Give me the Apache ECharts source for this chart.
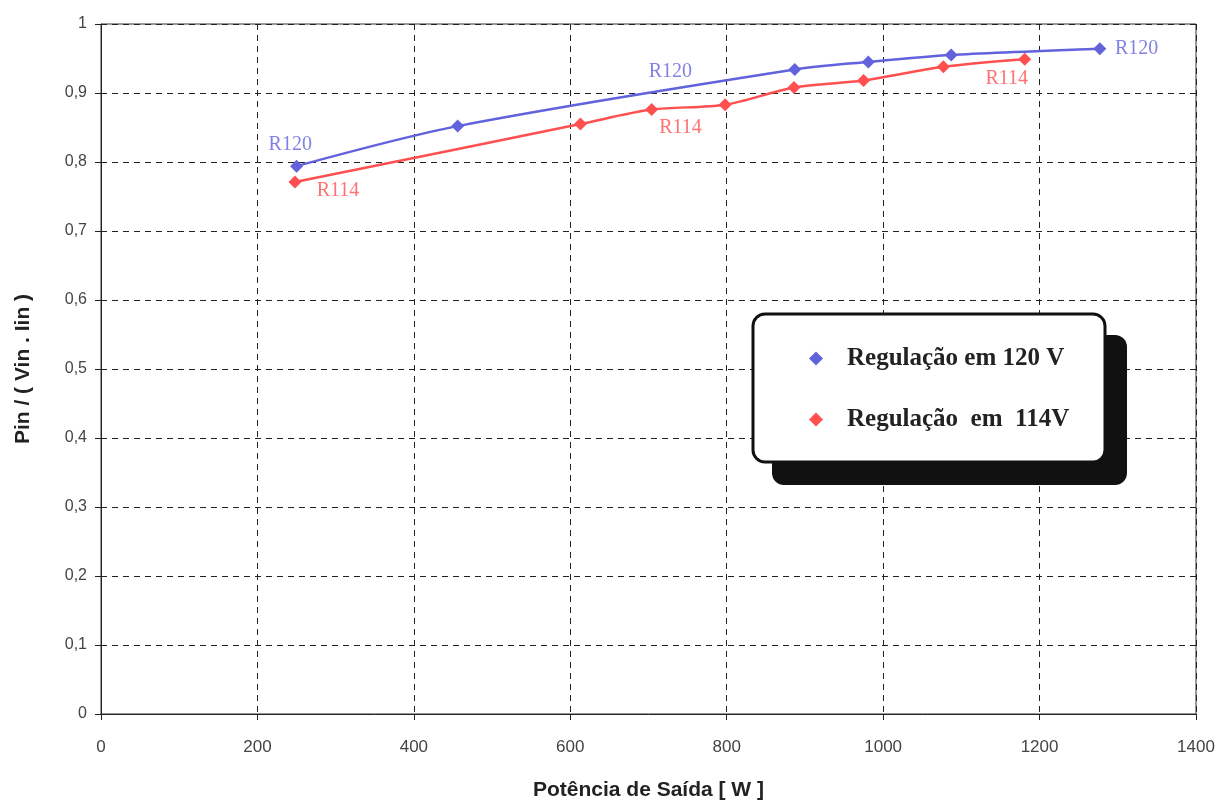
<!DOCTYPE html>
<html>
<head>
<meta charset="utf-8">
<script src="https://cdn.jsdelivr.net/npm/echarts@6/dist/echarts.min.js"></script>
<style>
  html, body { margin: 0; padding: 0; background: #fff; }
  #chart { width: 1221px; height: 806px; }
</style>
</head>
<body>
<div id="chart"></div>
<script>
// Potência de saída [W] e razão Pin / (Vin . Iin) para cada regulação
const potencia120 = [250, 456, 887, 981, 1087, 1277];
const razao120    = [0.794, 0.852, 0.934, 0.945, 0.955, 0.964];

const potencia114 = [248, 613, 704, 798, 886, 975, 1077, 1181];
const razao114    = [0.771, 0.855, 0.876, 0.883, 0.908, 0.918, 0.938, 0.949];

// Rótulos de texto ancorados em coordenadas do gráfico: [potência, razão, texto]
const rotulos120 = [[242, 0.825, 'R120'], [728, 0.931, 'R120'], [1324, 0.964, 'R120']];
const rotulos114 = [[303, 0.759, 'R114'], [741, 0.850, 'R114'], [1158, 0.921, 'R114']];

const xTicks = [0, 200, 400, 600, 800, 1000, 1200, 1400];
const nomeSerie120 = 'Regulação em 120 V';
const nomeSerie114 = 'Regulação  em  114V';

const azul = '#6262dc';
const vermelho = '#ff4f4f';

const pares = (xs, ys) => xs.map((x, i) => [x, ys[i]]);

const chart = echarts.init(document.getElementById('chart'));

const axisCommon = {
  axisLine: { show: true, lineStyle: { color: '#222', width: 1 } },
  axisTick: { show: true, length: 6, lineStyle: { color: '#222' } },
  splitLine: { show: true, lineStyle: { color: '#222', type: [6, 5], width: 1 } }
};

const rotuloSeries = (dados, cor) => ({
  type: 'scatter',
  data: dados,
  symbolSize: 0,
  silent: true,
  z: 5,
  label: {
    show: true,
    position: 'inside',
    formatter: p => p.data[2],
    color: cor,
    fontFamily: 'Liberation Serif, DejaVu Serif, serif',
    fontSize: 20
  }
});

chart.setOption({
  animation: false,
  backgroundColor: '#fff',
  grid: { left: 101, right: 25, top: 24, bottom: 90, show: true, borderColor: '#333', borderWidth: 1, backgroundColor: 'transparent' },
  xAxis: Object.assign({
    type: 'value',
    min: 0, max: 1400, interval: 200,
    name: 'Potência de Saída [ W ]',
    nameLocation: 'middle',
    nameGap: 66,
    nameTextStyle: { fontFamily: 'Liberation Sans, sans-serif', fontWeight: 'bold', fontSize: 21, color: '#222' },
    axisLabel: {
      margin: 25,
      fontFamily: 'Liberation Sans, sans-serif',
      fontSize: 17, color: '#444',
      formatter: v => xTicks.includes(v) ? String(v) : ''
    }
  }, axisCommon),
  yAxis: Object.assign({
    type: 'value',
    min: 0, max: 1, interval: 0.1,
    name: 'Pin / ( Vin . Iin )',
    nameLocation: 'middle',
    nameGap: 67,
    nameTextStyle: { fontFamily: 'Liberation Sans, sans-serif', fontWeight: 'bold', fontSize: 21, color: '#222' },
    axisLabel: {
      margin: 14,
      fontFamily: 'Liberation Sans, Arial, sans-serif',
      fontSize: 16, color: '#444',
      formatter: v => (Math.round(v * 10) / 10).toString().replace('.', ',')
    }
  }, axisCommon),
  // moldura da legenda com sombra sólida
  graphic: [
    {
      type: 'rect', z: 10,
      shape: { x: 772, y: 335, width: 355, height: 150, r: 12 },
      style: { fill: '#111' }
    },
    {
      type: 'rect', z: 11,
      shape: { x: 753, y: 314, width: 352, height: 148, r: 12 },
      style: { fill: '#fff', stroke: '#111', lineWidth: 3 }
    }
  ],
  legend: {
    data: [nomeSerie120, nomeSerie114],
    orient: 'vertical',
    left: 753, top: 314,
    padding: [32, 20, 30, 56],
    itemGap: 36,
    itemWidth: 14, itemHeight: 14,
    icon: 'diamond',
    z: 20,
    textStyle: {
      fontFamily: 'Liberation Serif, DejaVu Serif, serif',
      fontWeight: 'bold',
      fontSize: 25,
      color: '#222',
      padding: [0, 0, 0, 19]
    }
  },
  series: [
    {
      name: nomeSerie120,
      type: 'line',
      data: pares(potencia120, razao120),
      smooth: 0.3,
      symbol: 'diamond',
      symbolSize: 13,
      color: azul,
      lineStyle: { color: azul, width: 2.5 },
      itemStyle: { color: azul },
      z: 3
    },
    {
      name: nomeSerie114,
      type: 'line',
      data: pares(potencia114, razao114),
      smooth: 0.3,
      symbol: 'diamond',
      symbolSize: 13,
      color: vermelho,
      lineStyle: { color: vermelho, width: 2.5 },
      itemStyle: { color: vermelho },
      z: 3
    },
    rotuloSeries(rotulos120, azul),
    rotuloSeries(rotulos114, vermelho)
  ]
});
</script>
</body>
</html>
